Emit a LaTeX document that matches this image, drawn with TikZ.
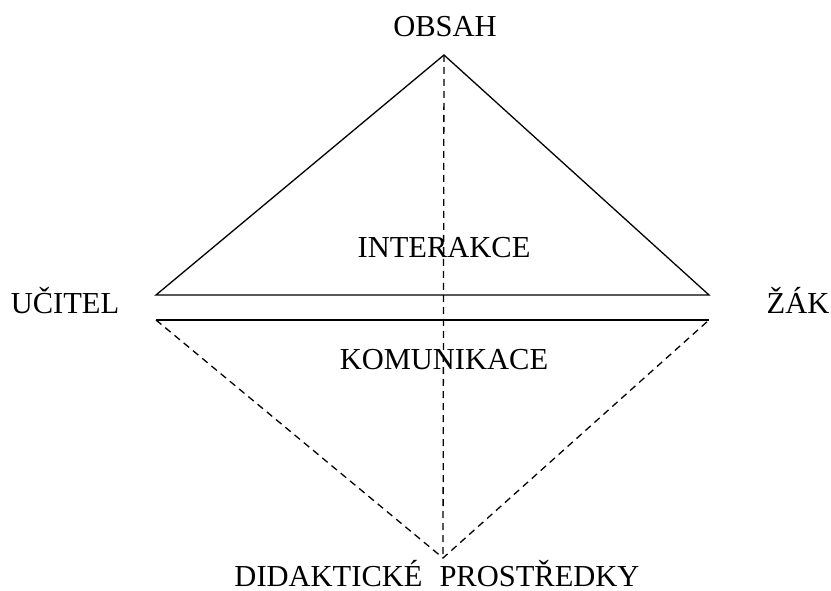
\documentclass[tikz,border=0pt]{standalone}
\usepackage{fontspec}
\setmainfont{Liberation Serif}
\begin{document}
\begin{tikzpicture}[x=1pt,y=-1pt,
  lbl/.style={anchor=base,inner sep=0pt,font=\fontsize{30.5}{36}\selectfont},
  ln/.style={line width=1.3pt},
  dln/.style={line width=1.3pt,dash pattern=on 7pt off 5pt}]
\useasboundingbox (0,0) rectangle (831,591);
\coordinate (top) at (444,55);
\coordinate (ul) at (156,295);
\coordinate (ur) at (709,295);
\coordinate (ll) at (156,320);
\coordinate (lr) at (709,320);
\coordinate (bot) at (443,558);
\draw[ln] (ul) -- (top) -- (ur) -- cycle;
\draw[ln] (ll) -- (lr);
\draw[dln] (ll) -- (bot) -- (lr);
\draw[dln] (top) -- (bot);
\node[lbl] (obsah) at (445,37) {OBSAH};
\node[lbl] (ucitel) at (65,313) {UČITEL};
\node[lbl] (zak) at (798,313) {ŽÁK};
\node[lbl] (inter) at (444,258) {INTERAKCE};
\node[lbl] (komun) at (444,369) {KOMUNIKACE};
\node[lbl] (did) at (437,586) {DIDAKTICKÉ\hspace{17pt}PROSTŘEDKY};
\end{tikzpicture}
\end{document}
